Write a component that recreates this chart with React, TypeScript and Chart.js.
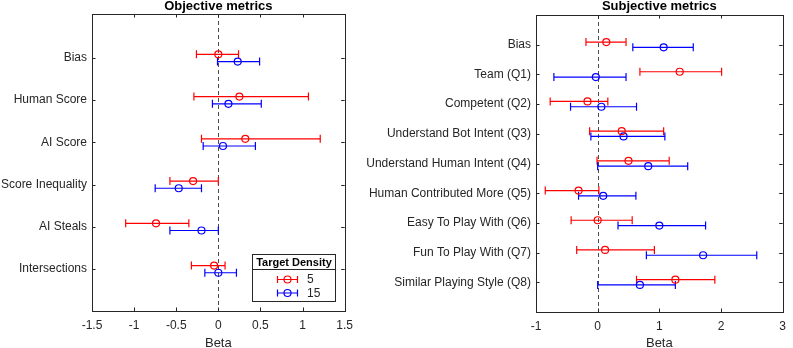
import React, { useEffect, useRef } from "react";
import { Chart, registerables } from "chart.js";

Chart.register(...registerables);

// ---------------- data ----------------
const objCategories = ["Bias", "Human Score", "AI Score", "Score Inequality", "AI Steals", "Intersections"];
const obj5Est = [0.0, 0.25, 0.32, -0.3, -0.74, -0.05];
const obj5Lo = [-0.26, -0.29, -0.2, -0.575, -1.1, -0.32];
const obj5Hi = [0.24, 1.07, 1.21, 0.0, -0.35, 0.08];
const obj15Est = [0.23, 0.12, 0.055, -0.47, -0.2, 0.0];
const obj15Lo = [-0.01, -0.07, -0.18, -0.75, -0.575, -0.16];
const obj15Hi = [0.49, 0.51, 0.44, -0.2, 0.0, 0.215];

const subjCategories = [
  "Bias",
  "Team (Q1)",
  "Competent (Q2)",
  "Understand Bot Intent (Q3)",
  "Understand Human Intent (Q4)",
  "Human Contributed More (Q5)",
  "Easy To Play With (Q6)",
  "Fun To Play With (Q7)",
  "Similar Playing Style (Q8)",
];
const subj5Est = [0.14, 1.33, -0.165, 0.39, 0.5, -0.31, 0.0, 0.12, 1.26];
const subj5Lo = [-0.19, 0.685, -0.77, -0.13, -0.01, -0.85, -0.43, -0.34, 0.63];
const subj5Hi = [0.46, 2.01, 0.165, 1.07, 1.16, 0.02, 0.56, 0.92, 1.9];
const subj15Est = [1.07, -0.03, 0.06, 0.42, 0.82, 0.09, 1.0, 1.71, 0.685];
const subj15Lo = [0.57, -0.71, -0.44, -0.11, 0.0, -0.31, 0.33, 0.79, 0.0];
const subj15Hi = [1.55, 0.46, 0.63, 1.09, 1.46, 0.62, 1.75, 2.58, 1.26];

const seriesLabels = ["5", "15"];
const legendTitle = "Target Density";
const xTitle = "Beta";

const RED = "#ff0000";
const BLUE = "#0000ff";
const AXIS = "#262626";
const FONT = "'Liberation Sans', Arial, Helvetica, sans-serif";

type Series = { label: string; est: number[]; lo: number[]; hi: number[]; color: string; offset: number };

function drawErrBar(ctx: CanvasRenderingContext2D, x1: number, x2: number, y: number, cap: number) {
  ctx.beginPath();
  ctx.moveTo(x1, y);
  ctx.lineTo(x2, y);
  ctx.moveTo(x1, y - cap);
  ctx.lineTo(x1, y + cap);
  ctx.moveTo(x2, y - cap);
  ctx.lineTo(x2, y + cap);
  ctx.stroke();
}

function buildConfig(
  title: string,
  cats: string[],
  series: Series[],
  xMin: number,
  xMax: number,
  xStep: number,
  yMin: number,
  yMax: number,
  yAxisWidth: number,
  pad: { top: number; right: number },
  xAxisHeight: number,
  showLegend: boolean
): any {
  const plugin = {
    id: "matlabStyle",
    beforeDatasetsDraw(chart: any) {
      const { ctx, chartArea, scales } = chart;
      const xs = scales.x;
      const ys = scales.y;
      // zero dashed line
      ctx.save();
      ctx.strokeStyle = "#4d4d4d";
      ctx.lineWidth = 1;
      ctx.setLineDash([4, 3]);
      const x0 = Math.round(xs.getPixelForValue(0)) + 0.5;
      ctx.beginPath();
      ctx.moveTo(x0, chartArea.top);
      ctx.lineTo(x0, chartArea.bottom);
      ctx.stroke();
      ctx.restore();
      // error bars
      ctx.save();
      ctx.lineWidth = 1.2;
      series.forEach((s) => {
        ctx.strokeStyle = s.color;
        s.est.forEach((_, i) => {
          const y = ys.getPixelForValue(i + 1 + s.offset);
          drawErrBar(ctx, xs.getPixelForValue(s.lo[i]), xs.getPixelForValue(s.hi[i]), y, 4);
        });
      });
      ctx.restore();
    },
    afterDraw(chart: any) {
      const { ctx, chartArea, scales } = chart;
      const xs = scales.x;
      const ys = scales.y;
      const { left, right, top, bottom } = chartArea;
      ctx.save();
      ctx.strokeStyle = AXIS;
      ctx.lineWidth = 1;
      ctx.strokeRect(Math.round(left) + 0.5, Math.round(top) + 0.5, Math.round(right - left), Math.round(bottom - top));
      const tl = 3.5;
      ctx.beginPath();
      xs.ticks.forEach((t: any) => {
        const px = Math.round(xs.getPixelForValue(t.value)) + 0.5;
        ctx.moveTo(px, bottom);
        ctx.lineTo(px, bottom - tl);
        ctx.moveTo(px, top);
        ctx.lineTo(px, top + tl);
      });
      ys.ticks.forEach((t: any) => {
        const py = Math.round(ys.getPixelForValue(t.value)) + 0.5;
        ctx.moveTo(left, py);
        ctx.lineTo(left + tl, py);
        ctx.moveTo(right, py);
        ctx.lineTo(right - tl, py);
      });
      ctx.stroke();
      // title
      ctx.fillStyle = "#000";
      ctx.font = `bold 13px ${FONT}`;
      ctx.textAlign = "center";
      ctx.textBaseline = "middle";
      ctx.fillText(title, (left + right) / 2, 6.5);
      // x axis title
      ctx.fillStyle = AXIS;
      ctx.font = `13px ${FONT}`;
      ctx.fillText(xTitle, (left + right) / 2, 343);

      if (showLegend) {
        const lx1 = 252.5, lx2 = 335.5, ly1 = 254.5, ly2 = 301.5;
        ctx.fillStyle = "#fff";
        ctx.fillRect(lx1, ly1, lx2 - lx1, ly2 - ly1);
        ctx.strokeStyle = AXIS;
        ctx.lineWidth = 1;
        ctx.strokeRect(lx1, ly1, lx2 - lx1, ly2 - ly1);
        ctx.beginPath();
        ctx.moveTo(lx1, 269.5);
        ctx.lineTo(lx2, 269.5);
        ctx.stroke();
        ctx.fillStyle = "#000";
        ctx.font = `bold 11px ${FONT}`;
        ctx.textAlign = "center";
        ctx.fillText(legendTitle, (lx1 + lx2) / 2, 262.5);
        const rows = [279.5, 293];
        series.forEach((s, k) => {
          const y = rows[k];
          ctx.strokeStyle = s.color;
          ctx.lineWidth = 1.2;
          drawErrBar(ctx, 277.5, 297.5, y, 3.5);
          ctx.beginPath();
          ctx.arc(287.5, y, 3.5, 0, Math.PI * 2);
          ctx.stroke();
          ctx.fillStyle = AXIS;
          ctx.font = `12px ${FONT}`;
          ctx.textAlign = "left";
          ctx.fillText(s.label, 307, y + 0.5);
        });
      }
      ctx.restore();
    },
  };

  return {
    type: "scatter",
    data: {
      datasets: series.map((s) => ({
        label: s.label,
        data: s.est.map((v, i) => ({ x: v, y: i + 1 + s.offset })),
        borderColor: s.color,
        backgroundColor: "rgba(0,0,0,0)",
        pointRadius: 3.5,
        pointBorderWidth: 1.2,
        pointHoverRadius: 3.5,
        showLine: false,
      })),
    },
    options: {
      animation: false,
      responsive: false,
      events: [],
      layout: { padding: { top: pad.top, right: pad.right, left: 0, bottom: 0 } },
      plugins: { legend: { display: false }, tooltip: { enabled: false }, title: { display: false } },
      scales: {
        x: {
          type: "linear",
          min: xMin,
          max: xMax,
          grid: { display: false, drawTicks: false },
          border: { display: false },
          ticks: {
            stepSize: xStep,
            padding: 7,
            color: AXIS,
            font: { family: FONT, size: 12 },
            callback: (v: number) => String(Math.round(v * 10) / 10),
          },
          title: { display: false },
          afterFit: (s: any) => {
            s.height = xAxisHeight;
          },
        },
        y: {
          type: "linear",
          min: yMin,
          max: yMax,
          reverse: true,
          grid: { display: false, drawTicks: false },
          border: { display: false },
          afterBuildTicks: (s: any) => {
            s.ticks = cats.map((_, i) => ({ value: i + 1 }));
          },
          ticks: {
            autoSkip: false,
            padding: 5,
            color: AXIS,
            font: { family: FONT, size: 12 },
            callback: (v: number) => cats[Math.round(v) - 1] ?? "",
          },
          afterFit: (s: any) => {
            s.width = yAxisWidth;
          },
        },
      },
    },
    plugins: [plugin],
  };
}

function ChartCanvas(props: { config: () => any; left: number; width: number }) {
  const ref = useRef<HTMLCanvasElement>(null);
  useEffect(() => {
    if (!ref.current) return;
    const chart = new Chart(ref.current, props.config());
    return () => chart.destroy();
  }, []);
  return (
    <canvas
      ref={ref}
      width={props.width}
      height={348}
      style={{ position: "absolute", left: props.left, top: 0, width: props.width, height: 348, display: "block" }}
    />
  );
}

export default function App() {
  const left = () =>
    buildConfig(
      "Objective metrics",
      objCategories,
      [
        { label: seriesLabels[0], est: obj5Est, lo: obj5Lo, hi: obj5Hi, color: RED, offset: -0.085 },
        { label: seriesLabels[1], est: obj15Est, lo: obj15Lo, hi: obj15Hi, color: BLUE, offset: 0.085 },
      ],
      -1.5,
      1.5,
      0.5,
      -0.04,
      6.99,
      92,
      { top: 14, right: 13 },
      37,
      true
    );
  const right = () =>
    buildConfig(
      "Subjective metrics",
      subjCategories,
      [
        { label: seriesLabels[0], est: subj5Est, lo: subj5Lo, hi: subj5Hi, color: RED, offset: -0.09 },
        { label: seriesLabels[1], est: subj15Est, lo: subj15Lo, hi: subj15Hi, color: BLUE, offset: 0.09 },
      ],
      -1,
      3,
      1,
      0,
      10,
      176,
      { top: 15, right: 3 },
      36,
      false
    );
  return (
    <div style={{ position: "fixed", left: 0, top: 0, width: 793, height: 348, background: "#fff" }}>
      <ChartCanvas config={left} left={0} width={360} />
      <ChartCanvas config={right} left={360} width={433} />
    </div>
  );
}
